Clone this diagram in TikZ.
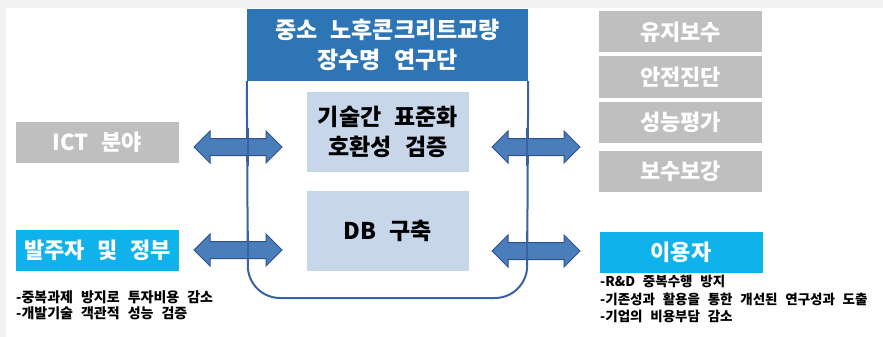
\documentclass[tikz,border=0pt]{standalone}
\usepackage{fontspec}
\newfontfamily\kr{Noto Sans CJK KR}[WordSpace=2]
\newfontfamily\krs{Noto Sans CJK KR}[WordSpace=2.5]
\definecolor{titleblue}{HTML}{2E75B6}
\definecolor{framec}{HTML}{3A62A0}
\definecolor{innerc}{HTML}{C8D6EA}
\definecolor{arrowf}{HTML}{4A7EBB}
\definecolor{arrowd}{HTML}{2F528F}
\definecolor{grayb}{HTML}{BFBFBF}
\definecolor{cyanb}{HTML}{10B2EC}
\definecolor{bgc}{HTML}{F2F2F2}
\tikzset{
  txt/.style={font=\kr\bfseries\fontsize{23}{30}\selectfont, align=center},
  titlebox/.style={fill=titleblue, text=white, txt, minimum width=281pt, minimum height=72pt, inner sep=0pt},
  innerbox/.style={fill=innerc, text=black, txt, minimum width=162pt, minimum height=80pt, inner sep=0pt},
  sidebox/.style={text=white, txt, font=\kr\bfseries\fontsize{22}{30}\selectfont, minimum width=163pt, minimum height=41pt, inner sep=0pt},
  graybox/.style={sidebox, fill=grayb},
  cyanbox/.style={sidebox, fill=cyanb},
  dblarrow/.style={fill=arrowf, draw=arrowd, line width=1pt, line join=miter},
  bullet/.style={font=\krs\bfseries\fontsize{14}{16}\selectfont, align=left, anchor=north west, inner sep=0pt, text=black},
}
% double arrow between two named coordinates (same y): #1 left, #2 right
\newcommand\dblarr[2]{%
  \path (#1) coordinate (L) (#2) coordinate (R);
  \draw[dblarrow] (L) -- ([xshift=16pt,yshift=-16pt]L) -- ([xshift=16pt,yshift=-8.5pt]L)
    -- ([xshift=-16pt,yshift=-8.5pt]R) -- ([xshift=-16pt,yshift=-16pt]R) -- (R)
    -- ([xshift=-16pt,yshift=16pt]R) -- ([xshift=-16pt,yshift=8.5pt]R)
    -- ([xshift=16pt,yshift=8.5pt]L) -- ([xshift=16pt,yshift=16pt]L) -- cycle;}
\begin{document}
\begin{tikzpicture}[x=1pt,y=-1pt]
\useasboundingbox (0,0) rectangle (883,337);
\fill[bgc] (0,0) rectangle (883,337);
\fill[white] (6,8) rectangle (883,337);
% frame
\node[titlebox] (title) at (387.5,45) {중소 노후콘크리트교량\\장수명 연구단};
\draw[framec, line width=2pt, rounded corners=32pt] (title.south west) -- (248,298) -- (527,298) -- (title.south east);
\node[innerbox] (std) at (388,131.5) {기술간 표준화\\호환성 검증};
\node[innerbox] (db) at (388,231) {DB 구축};
% left
\node[graybox] (ict) at (97.5,142.5) {ICT 분야};
\node[cyanbox] (own) at (97.5,250) {발주자 및 정부};
\node[bullet] (ownb) at (16,290) {-중복과제 방지로 투자비용 감소\\-개발기술 객관적 성능 검증};
% right
\node[graybox] (r1) at (680.5,32) {유지보수};
\node[graybox] (r2) at (680.5,77) {안전진단};
\node[graybox] (r3) at (680.5,122.5) {성능평가};
\node[graybox] (r4) at (680.5,171) {보수보강};
\node[cyanbox] (user) at (681,252.5) {이용자};
\node[bullet, font=\krs\bfseries\fontsize{13.5}{17.5}\selectfont] (userb) at (600,275) {-R\&D 중복수행 방지\\-기존성과 활용을 통한 개선된 연구성과 도출\\-기업의 비용부담 감소};
% arrow end points
\coordinate (a1l) at (194,147); \coordinate (a1r) at (282,147);
\coordinate (a2l) at (194,250); \coordinate (a2r) at (282,250);
\coordinate (a3l) at (492,147); \coordinate (a3r) at (580,147);
\coordinate (a4l) at (492,251); \coordinate (a4r) at (580,251);
\dblarr{a1l}{a1r}
\dblarr{a2l}{a2r}
\dblarr{a3l}{a3r}
\dblarr{a4l}{a4r}
% frame line over arrows
\draw[framec, line width=2pt] (248,128) -- (248,166) (248,231) -- (248,267);
\draw[framec, line width=2pt] (527,128) -- (527,166) (527,231) -- (527,267);
\end{tikzpicture}
\end{document}
